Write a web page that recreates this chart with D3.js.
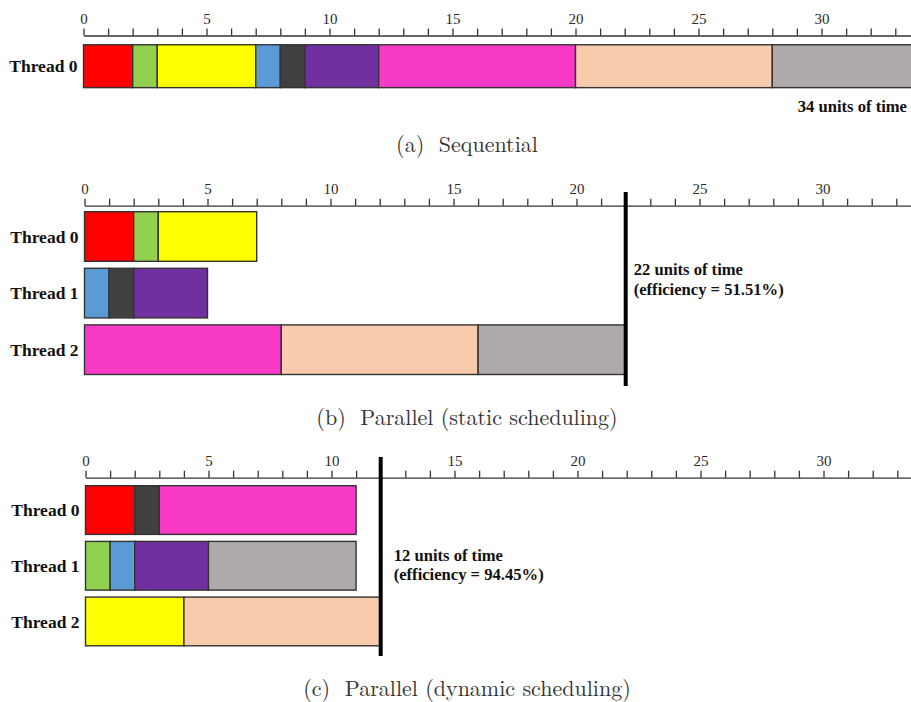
<!DOCTYPE html>
<html>
<head>
<meta charset="utf-8">
<script src="https://cdn.jsdelivr.net/npm/d3@7/dist/d3.min.js"></script>
<style>
  html, body { margin: 0; padding: 0; background: #fff; }
  svg { display: block; }
</style>
</head>
<body>
<svg id="chart" width="911" height="702"></svg>
<script>
// Nine tasks: duration (time units) and fill colour
const taskNames = ["t1", "t2", "t3", "t4", "t5", "t6", "t7", "t8", "t9"];
const taskDurations = [2, 1, 4, 1, 1, 3, 8, 8, 6];
const taskColors = ["#ff0000", "#92d050", "#ffff00", "#5b9bd5", "#404040",
                    "#7030a0", "#f93ac6", "#f8cbad", "#aeaaaa"];

// Which tasks each thread runs, in order (indices into the task arrays)
const sequentialPlan = [[0, 1, 2, 3, 4, 5, 6, 7, 8]];
const staticPlan = [[0, 1, 2], [3, 4, 5], [6, 7, 8]];
// dynamic plan lists explicit [task, start, end] slots
const dynamicPlan = [
  [[0, 0, 2], [4, 2, 3], [6, 3, 11]],
  [[1, 0, 1], [3, 1, 2], [5, 2, 5], [8, 5, 11]],
  [[2, 0, 4], [7, 4, 12]]
];

const threadLabels = ["Thread 0", "Thread 1", "Thread 2"];
const captions = ["(a)  Sequential", "(b)  Parallel (static scheduling)", "(c)  Parallel (dynamic scheduling)"];
const notesB = ["22 units of time", "(efficiency = 51.51%)"];
const notesC = ["12 units of time", "(efficiency = 94.45%)"];
const noteA = "34 units of time";

const TIMES = '"Liberation Serif", "Times New Roman", serif';
const LMR = '"Latin Modern Roman", "Liberation Serif", serif';

const svg = d3.select("#chart");
const W = 911;
const unit = 24.6;

// turn a sequential per-thread plan into [task, start, end] slots
function packPlan(plan) {
  return plan.map(list => {
    let t = 0;
    return list.map(i => { const s = t; t += taskDurations[i]; return [i, s, t]; });
  });
}

function panel(opts) {
  const g = svg.append("g");
  const x = d3.scaleLinear()
    .domain([0, (W - opts.x0) / unit])
    .range([opts.x0, W]);

  const axis = d3.axisTop(x)
    .tickValues(d3.range(0, Math.floor(x.domain()[1]) + 1))
    .tickSize(7).tickSizeOuter(0).tickPadding(4.5)
    .tickFormat(d => d % 5 === 0 ? d : "");
  const ax = g.append("g").attr("transform", `translate(0,${opts.axisY})`).call(axis);
  ax.selectAll("path, line").attr("stroke", "#333").attr("stroke-width", 1.3);
  ax.selectAll("text")
    .style("font-family", TIMES).style("font-size", "15px").attr("fill", "#2a2a2a");

  const n = opts.slots.length;
  const y = d3.scaleBand()
    .domain(threadLabels.slice(0, n))
    .range([opts.barTop, opts.barTop + n * opts.step - opts.gap])
    .paddingInner(opts.gap / opts.step)
    .paddingOuter(0);

  opts.slots.forEach((slots, ti) => {
    const name = threadLabels[ti];
    g.selectAll(null).data(slots).enter().append("rect")
      .attr("x", d => x(d[1]))
      .attr("y", y(name))
      .attr("width", d => x(d[2]) - x(d[1]))
      .attr("height", y.bandwidth())
      .attr("fill", d => taskColors[d[0]])
      .attr("stroke", "#333")
      .attr("stroke-width", 1.4);
    g.append("text")
      .style("font-family", TIMES).style("font-weight", "bold").style("font-size", "17.5px")
      .attr("fill", "#111")
      .attr("x", opts.x0 - 6)
      .attr("y", y(name) + y.bandwidth() / 2)
      .attr("dy", "0.35em")
      .attr("text-anchor", "end")
      .text(name);
  });

  return { g, x, y };
}

function note(g, x, y, txt) {
  return g.append("text")
    .style("font-family", TIMES).style("font-weight", "bold").style("font-size", "16.6px")
    .attr("fill", "#111").attr("x", x).attr("y", y).text(txt);
}

// (a) sequential
const pa = panel({ x0: 83.5, axisY: 35.5, barTop: 41.7, step: 56, gap: 7, slots: packPlan(sequentialPlan) });
note(pa.g, 907, 112, noteA).attr("text-anchor", "end");

// (b) static scheduling
const slotsB = packPlan(staticPlan);
const pb = panel({ x0: 84.5, axisY: 205.7, barTop: 211.7, step: 56.6, gap: 7, slots: slotsB });
const endB = d3.max(slotsB.flat(), d => d[2]);
pb.g.append("line").attr("x1", pb.x(endB)).attr("x2", pb.x(endB))
  .attr("y1", 192).attr("y2", 386).attr("stroke", "#000").attr("stroke-width", 4);
notesB.forEach((t, i) => note(pb.g, pb.x(endB) + 8, 275 + i * 19.5, t));

// (c) dynamic scheduling
const pc = panel({ x0: 85.5, axisY: 477.7, barTop: 485.7, step: 55.7, gap: 7, slots: dynamicPlan });
const endC = d3.max(dynamicPlan.flat(), d => d[2]);
pc.g.append("line").attr("x1", pc.x(endC)).attr("x2", pc.x(endC))
  .attr("y1", 457).attr("y2", 656).attr("stroke", "#000").attr("stroke-width", 4);
notesC.forEach((t, i) => note(pc.g, pc.x(endC) + 13, 561 + i * 19, t));

// captions
const captionY = [151.5, 425, 695.5];
svg.selectAll(null).data(captions).enter().append("text")
  .style("font-family", LMR).style("font-size", "22px").style("white-space", "pre")
  .attr("fill", "#333")
  .attr("x", 467).attr("y", (d, i) => captionY[i])
  .attr("text-anchor", "middle")
  .text(d => d);
</script>
</body>
</html>
